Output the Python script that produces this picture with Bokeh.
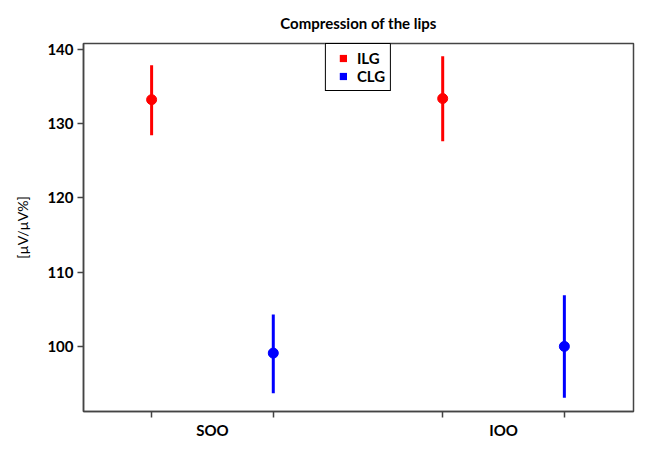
from bokeh.plotting import figure
from bokeh.models import FixedTicker, Range1d, Legend, LegendItem, ColumnDataSource
from bokeh.embed import file_html
from bokeh.resources import INLINE

# ---- data ----
categories = ["SOO", "IOO"]
ilg_mean = [133.2, 133.35]
ilg_low = [128.4, 127.6]
ilg_high = [137.85, 139.05]
clg_mean = [99.1, 100.0]
clg_low = [93.7, 93.1]
clg_high = [104.3, 106.9]

FONT = "Lato"
AX = "#444444"
offset = 0.209
centers = [i + 1 for i in range(len(categories))]
x_ilg = [c - offset for c in centers]
x_clg = [c + offset for c in centers]

p = figure(width=635, height=441, output_backend="svg", toolbar_location=None,
           x_range=Range1d(0.557, 2.4465), y_range=Range1d(91.24, 140.76),
           min_border_left=83, min_border_right=2, min_border_top=41, min_border_bottom=0)

p.title.text = "Compression of the lips"
p.title.align = "center"
p.title.text_font = FONT
p.title.text_font_size = "15px"
p.title.text_font_style = "bold"
p.title.text_color = "#000000"
p.title.standoff = 23

p.xgrid.visible = False
p.ygrid.visible = False
p.outline_line_color = AX
p.outline_line_width = 1.5
p.outline_line_alpha = 1.0

src_ilg = ColumnDataSource(dict(x=x_ilg, m=ilg_mean, lo=ilg_low, hi=ilg_high))
src_clg = ColumnDataSource(dict(x=x_clg, m=clg_mean, lo=clg_low, hi=clg_high))

p.segment(x0="x", x1="x", y0="lo", y1="hi", source=src_ilg, line_color="#ff0000", line_width=3)
p.scatter(x="x", y="m", source=src_ilg, size=10, fill_color="#ff0000", line_color="#ff0000")
p.segment(x0="x", x1="x", y0="lo", y1="hi", source=src_clg, line_color="#0000ff", line_width=3)
p.scatter(x="x", y="m", source=src_clg, size=10, fill_color="#0000ff", line_color="#0000ff")

# legend (proxy square markers, not drawn in the plot area)
nan = float("nan")
r1 = p.scatter(x=[nan], y=[nan], marker="square", size=8, fill_color="#ff0000", line_color=None)
r2 = p.scatter(x=[nan], y=[nan], marker="square", size=8, fill_color="#0000ff", line_color=None)
legend = Legend(items=[LegendItem(label="ILG", renderers=[r1]), LegendItem(label="CLG", renderers=[r2])],
                location="top_center", margin=0, padding=5, spacing=0,
                glyph_width=24, glyph_height=18, label_height=14, label_standoff=2,
                label_text_font=FONT, label_text_font_size="15px", label_text_font_style="bold",
                label_text_color="#000000",
                border_line_color="#000000", border_line_width=1, border_line_alpha=1.0,
                background_fill_color="#ffffff", background_fill_alpha=1.0)
p.add_layout(legend, "center")

# x axis
xa = p.xaxis[0]
xa.ticker = FixedTicker(ticks=centers, minor_ticks=x_ilg + x_clg)
xa.major_label_overrides = {c: lab for c, lab in zip(centers, categories)}
xa.major_tick_out = 0
xa.major_tick_in = 0
xa.minor_tick_out = 6
xa.minor_tick_in = 0
xa.minor_tick_line_color = AX
xa.minor_tick_line_width = 1.5
xa.axis_line_color = AX
xa.axis_line_width = 1.5
xa.major_label_standoff = 3
xa.major_label_text_font = FONT
xa.major_label_text_font_size = "15px"
xa.major_label_text_font_style = "bold"
xa.major_label_text_color = "#000000"

# y axis
ya = p.yaxis[0]
ya.ticker = FixedTicker(ticks=[100, 110, 120, 130, 140])
ya.minor_tick_out = 0
ya.minor_tick_in = 0
ya.major_tick_out = 6
ya.major_tick_in = 0
ya.major_tick_line_color = AX
ya.major_tick_line_width = 1.5
ya.axis_line_color = AX
ya.axis_line_width = 1.5
ya.major_label_standoff = 4
ya.major_label_text_font = FONT
ya.major_label_text_font_size = "15px"
ya.major_label_text_font_style = "bold"
ya.major_label_text_color = "#000000"
ya.axis_label = "[µV/µV%]"
ya.axis_label_text_font = FONT
ya.axis_label_text_font_size = "14px"
ya.axis_label_text_font_style = "normal"
ya.axis_label_text_color = "#000000"
ya.axis_label_standoff = 13

open("out.html", "w").write(file_html(p, INLINE))
